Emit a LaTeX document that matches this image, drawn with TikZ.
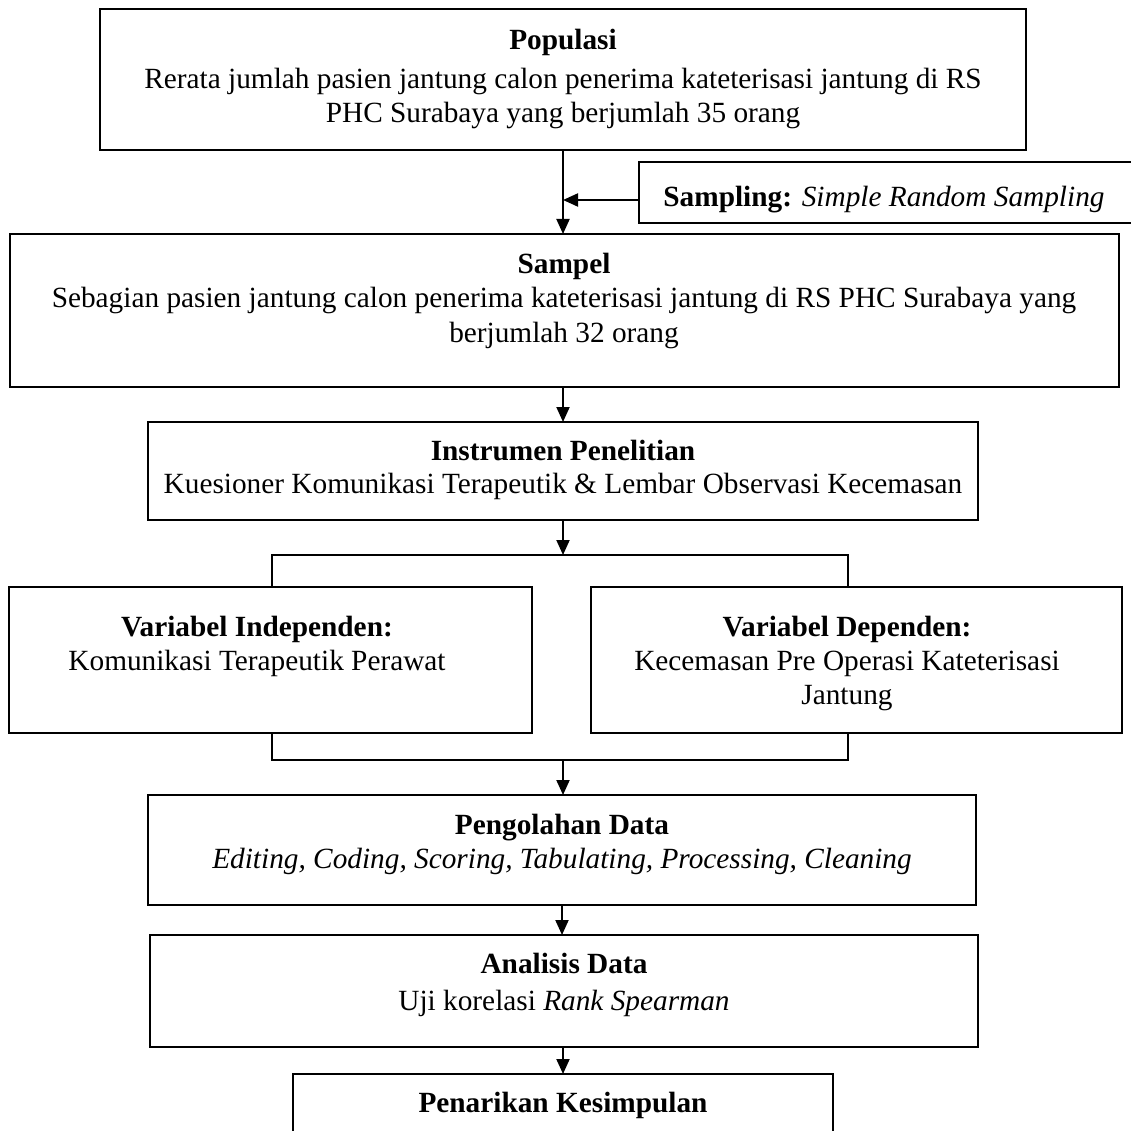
\documentclass[tikz,border=0pt]{standalone}
\usepackage{fontspec}
\setmainfont{Liberation Serif}
\usetikzlibrary{arrows.meta}
\newcommand{\diagfont}{\fontsize{29.3pt}{34pt}\selectfont}
\begin{document}
\begin{tikzpicture}[x=1pt, y=-1pt,
  boxst/.style={draw, line width=2pt, inner sep=0pt, outer sep=0pt},
  txt/.style={anchor=base, inner sep=0pt, font=\diagfont},
  arr/.style={line width=2pt, -{Triangle[length=15pt,width=13pt]}},
  brk/.style={line width=1.2pt}]
\useasboundingbox (0,0) rectangle (1130,1131);
\fill[white] (0,0) rectangle (1130,1131);

% Populasi
\node[boxst, minimum width=926pt, minimum height=141pt] (pop) at (563,79.5) {};
\node[txt] (popA) at (563,50) {\textbf{Populasi}};
\node[txt] (popB) at (563,89) {Rerata jumlah pasien jantung calon penerima kateterisasi jantung di RS};
\node[txt] (popC) at (563,123) {PHC Surabaya yang berjumlah 35 orang};

% Sampling
\node[boxst, minimum width=496pt, minimum height=61pt] (samp) at (887,192.5) {};
\node[txt] (sampT) at (884,207) {\textbf{Sampling:} \textit{Simple Random Sampling}};

% Sampel
\node[boxst, minimum width=1109pt, minimum height=153pt] (sam) at (564.5,310.5) {};
\node[txt] (samA) at (564,273) {\textbf{Sampel}};
\node[txt] (samB) at (564,308) {Sebagian pasien jantung calon penerima kateterisasi jantung di RS PHC Surabaya yang};
\node[txt] (samC) at (564,342) {berjumlah 32 orang};

% Instrumen
\node[boxst, minimum width=830pt, minimum height=98pt] (ins) at (563,471) {};
\node[txt] (insA) at (563,460) {\textbf{Instrumen Penelitian}};
\node[txt] (insB) at (563,493) {Kuesioner Komunikasi Terapeutik \& Lembar Observasi Kecemasan};

% Variabel boxes
\node[boxst, minimum width=523pt, minimum height=146pt] (ind) at (270.5,660) {};
\node[txt] (indA) at (257,636) {\textbf{Variabel Independen:}};
\node[txt] (indB) at (257,670) {Komunikasi Terapeutik Perawat};
\node[boxst, minimum width=531pt, minimum height=146pt] (dep) at (856.5,660) {};
\node[txt] (depA) at (847,636) {\textbf{Variabel Dependen:}};
\node[txt] (depB) at (847,670) {Kecemasan Pre Operasi Kateterisasi};
\node[txt] (depC) at (847,704) {Jantung};

% Pengolahan
\node[boxst, minimum width=828pt, minimum height=110pt] (peng) at (562,850) {};
\node[txt] (pengA) at (562,834) {\textbf{Pengolahan Data}};
\node[txt] (pengB) at (562,868) {\textit{Editing, Coding, Scoring, Tabulating, Processing, Cleaning}};

% Analisis
\node[boxst, minimum width=828pt, minimum height=112pt] (ana) at (564,991) {};
\node[txt] (anaA) at (564,973) {\textbf{Analisis Data}};
\node[txt] (anaB) at (564,1010) {Uji korelasi \textit{Rank Spearman}};

% Penarikan
\node[boxst, minimum width=540pt, minimum height=90pt] (pen) at (563,1119) {};
\node[txt] (penA) at (563,1112) {\textbf{Penarikan Kesimpulan}};

% connectors
\coordinate (sj) at ([yshift=-7.5pt]samp.west);
\draw[arr] (pop.south) -- (pop.south |- sam.north);
\draw[arr] (sj) -- (sj -| pop.south);
\draw[arr] (sam.south -| ins.north) -- (ins.north);
\coordinate (bl) at (272,555);
\coordinate (br) at (848,555);
\draw[arr] (ins.south) -- (ins.south |- bl);
\draw[brk] (ind.north -| bl) -- (bl) -- (br) -- (dep.north -| br);
\coordinate (bl2) at (272,760);
\coordinate (br2) at (848,760);
\draw[brk] (ind.south -| bl2) -- (bl2) -- (br2) -- (dep.south -| br2);
\draw[arr] (bl2 -| ins.south) -- (ins.south |- peng.north);
\draw[arr] (peng.south) -- (peng.south |- ana.north);
\draw[arr] (ana.south -| pen.north) -- (pen.north);
\end{tikzpicture}
\end{document}
